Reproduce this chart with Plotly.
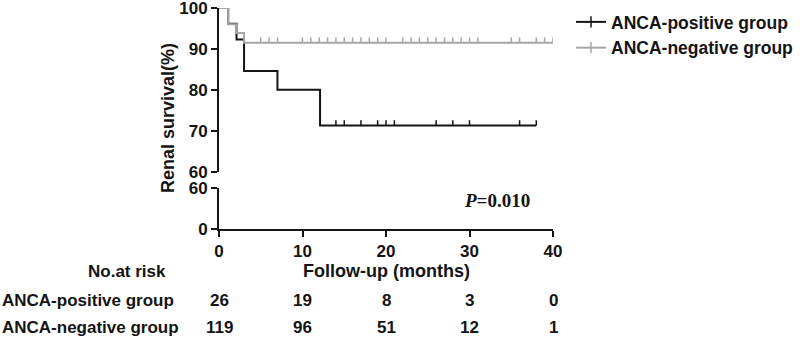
import plotly.graph_objects as go

# ---------------- data ----------------
pos_time = [0, 1.1, 2.1, 3.0, 7.0, 12.1, 38.0]
pos_surv = [100, 96.15, 92.31, 84.62, 80.0, 71.3, 71.3]
pos_cens_time = [14, 15, 17, 19, 20, 21, 26, 28, 30, 36, 38]

neg_time = [0, 1.1, 2.1, 3.0, 40.0]
neg_surv = [100, 96.0, 93.9, 91.5, 91.5]
neg_cens_time = [5, 6, 7, 10, 11, 12, 13, 14, 15, 16, 17, 18, 19, 20,
                 22, 23, 24, 25, 26, 27, 28, 29, 30, 31, 35, 36, 38, 39, 40]

risk_times = [0, 10, 20, 30, 40]
risk_pos = [26, 19, 8, 3, 0]
risk_neg = [119, 96, 51, 12, 1]

group_names = ["ANCA-positive group", "ANCA-negative group"]
upper_ticks = [60, 70, 80, 90, 100]
lower_ticks = [0, 60]
x_ticks = [0, 10, 20, 30, 40]
p_text = "<i>P</i>=0.010"

# ---------------- style ----------------
W, H = 800, 342
L, R, T, B = 219, 247, 8, 113
PH = H - T - B
BLACK = "#141414"
GRAY = "#a6a6a6"
FONT = "Liberation Sans, Arial, sans-serif"
FS = 17


def py(y_px):
    return (H - B - y_px) / PH


def px(x_px):
    return (x_px - L) / (W - L - R)


def last_val(times, survs, t):
    v = survs[0]
    for ti, si in zip(times, survs):
        if ti <= t:
            v = si
    return v


fig = go.Figure()

# survival curves
fig.add_trace(go.Scatter(x=pos_time, y=pos_surv, mode="lines", line=dict(color=BLACK, width=2, shape="hv"),
                         showlegend=False, hoverinfo="skip"))
fig.add_trace(go.Scatter(x=neg_time, y=neg_surv, mode="lines", line=dict(color=GRAY, width=2, shape="hv"),
                         showlegend=False, hoverinfo="skip"))

# censor ticks (upward, via error bars)
for times, survs, ctimes, col in [(pos_time, pos_surv, pos_cens_time, BLACK),
                                  (neg_time, neg_surv, neg_cens_time, GRAY)]:
    cy = [last_val(times, survs, t) for t in ctimes]
    fig.add_trace(go.Scatter(
        x=ctimes, y=cy, mode="markers", marker=dict(size=1, color=col, opacity=0),
        error_y=dict(type="constant", value=1.3, valueminus=0, symmetric=False,
                     color=col, thickness=1.5, width=0),
        showlegend=False, hoverinfo="skip"))

# invisible trace so the lower (broken) axis segment is drawn
fig.add_trace(go.Scatter(x=[0], y=[0], xaxis="x", yaxis="y2", mode="markers",
                         marker=dict(size=1, opacity=0), showlegend=False, hoverinfo="skip"))

# legend entries
for name, col in zip(group_names, [BLACK, GRAY]):
    fig.add_trace(go.Scatter(
        x=[None], y=[None], mode="lines+markers", name=name,
        line=dict(color=col, width=2),
        marker=dict(symbol="line-ns", size=8, line=dict(color=col, width=1.5), color=col)))

axis_common = dict(showline=True, linecolor=BLACK, linewidth=2, ticks="outside", ticklen=6, tickwidth=2,
                   tickcolor=BLACK, showgrid=False, zeroline=False,
                   tickfont=dict(size=FS, weight="bold"), automargin=False, ticklabeloverflow="allow")

fig.update_layout(
    width=W, height=H,
    margin=dict(l=L, r=R, t=T, b=B, autoexpand=False),
    plot_bgcolor="white", paper_bgcolor="white",
    font=dict(family=FONT, size=FS, color=BLACK),
    xaxis=dict(range=[0, 40], tickvals=x_ticks, anchor="y2", **axis_common),
    yaxis=dict(domain=[py(171.7), 1], range=[60, 100], tickvals=upper_ticks, anchor="x", **axis_common),
    yaxis2=dict(domain=[0, py(188.3)], range=[0, 60], tickvals=lower_ticks, anchor="x", **axis_common),
    legend=dict(x=px(571), y=py(4), xanchor="left", yanchor="top", bgcolor="rgba(0,0,0,0)",
                font=dict(size=17.5, weight="bold"), tracegroupgap=0, itemwidth=30),
)

ann = []
# y title
ann.append(dict(text="Renal survival(%)", xref="paper", yref="paper", x=px(168), y=py(118),
                textangle=-90, showarrow=False, font=dict(size=18, weight="bold"),
                xanchor="center", yanchor="middle"))
# P value
ann.append(dict(text=p_text, xref="x", yref="paper", x=33.3, y=py(200), showarrow=False,
                font=dict(family="Liberation Serif, Times New Roman, serif", size=19, weight="bold"),
                xanchor="center", yanchor="middle"))
# risk table headers
ann.append(dict(text="No.at risk", xref="paper", yref="paper", x=px(168), y=py(271), showarrow=False,
                font=dict(size=FS, weight="bold"), xanchor="right", yanchor="middle"))
ann.append(dict(text="Follow-up (months)", xref="paper", yref="paper", x=0.5, y=py(271), showarrow=False,
                font=dict(size=18, weight="bold"), xanchor="center", yanchor="middle"))
for name, vals, ypx in [(group_names[0], risk_pos, 300), (group_names[1], risk_neg, 327)]:
    ann.append(dict(text=name, xref="paper", yref="paper", x=px(0), y=py(ypx), showarrow=False,
                    font=dict(size=FS, weight="bold"), xanchor="left", yanchor="middle"))
    for t, v in zip(risk_times, vals):
        ann.append(dict(text=str(v), xref="x", yref="paper", x=t, y=py(ypx), showarrow=False,
                        font=dict(size=FS, weight="bold"), xanchor="center", yanchor="middle"))
fig.update_layout(annotations=ann)

fig.write_html("out.html", config={"displayModeBar": False},
               post_script="document.body.style.margin='0';document.body.style.overflow='hidden';")
